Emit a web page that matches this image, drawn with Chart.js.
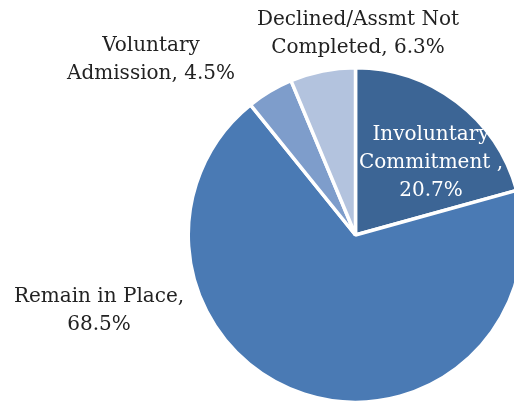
<!DOCTYPE html>
<html>
<head>
<meta charset="utf-8">
<script src="https://cdn.jsdelivr.net/npm/chart.js@4"></script>
<style>
  html, body { margin: 0; padding: 0; background: #fff; overflow: hidden; }
  #wrap { width: 540px; height: 410px; position: relative; }
</style>
</head>
<body>
<div id="wrap"><canvas id="myChart" width="540" height="410"></canvas></div>
<script>
// chart data
const categories = ['Involuntary Commitment ,', 'Remain in Place,', 'Voluntary Admission,', 'Declined/Assmt Not Completed,'];
const shares = [20.7, 68.5, 4.5, 6.3];
const sliceColors = ['#3c6595', '#4a7ab4', '#7e9dcb', '#b3c3de'];

// how each label is broken into lines, where it sits, and its colour
const labelLines = [
  ['Involuntary', 'Commitment ,', '20.7%'],
  ['Remain in Place,', '68.5%'],
  ['Voluntary', 'Admission, 4.5%'],
  ['Declined/Assmt Not', 'Completed, 6.3%']
];
const labelPos = [[431, 135], [99, 297], [151, 46], [358, 20]];
const labelColor = ['#ffffff', '#222222', '#222222', '#222222'];

const pieLabels = {
  id: 'pieLabels',
  afterDatasetsDraw(chart) {
    const ctx = chart.ctx;
    ctx.save();
    ctx.font = '20px "DejaVu Serif"';
    ctx.textAlign = 'center';
    ctx.textBaseline = 'middle';
    labelLines.forEach((lines, i) => {
      ctx.fillStyle = labelColor[i];
      lines.forEach((line, j) => {
        ctx.fillText(line, labelPos[i][0], labelPos[i][1] + j * 28);
      });
    });
    ctx.restore();
  }
};

const ctx = document.getElementById('myChart').getContext('2d');
new Chart(ctx, {
  type: 'pie',
  data: {
    labels: categories,
    datasets: [{
      data: shares,
      backgroundColor: sliceColors,
      borderColor: '#ffffff',
      borderWidth: 3.5
    }]
  },
  options: {
    responsive: false,
    animation: false,
    layout: { padding: { left: 186, right: 15, top: 66, bottom: 6 } },
    plugins: {
      legend: { display: false },
      tooltip: { enabled: false }
    }
  },
  plugins: [pieLabels]
});
</script>
</body>
</html>
